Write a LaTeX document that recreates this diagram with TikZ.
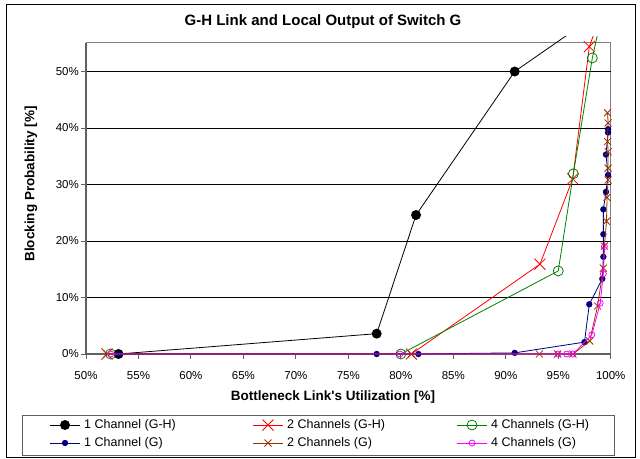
\documentclass[tikz,border=0pt]{standalone}
\usepackage{fontspec}
\setmainfont{Liberation Sans}
\newfontfamily\nomapfont{Liberation Sans}
\definecolor{navyc}{HTML}{000080}
\definecolor{brownc}{HTML}{993300}
\definecolor{greenc}{HTML}{008000}
\definecolor{magc}{HTML}{FF00FF}
\definecolor{axgray}{HTML}{808080}
\definecolor{axdark}{HTML}{606060}
\begin{document}
\begin{tikzpicture}[x=1pt,y=-1pt,
  lbl/.style={font=\fontsize{11.5}{13}\selectfont, inner sep=0pt},
  ttl/.style={font=\bfseries\fontsize{15}{17}\selectfont, inner sep=0pt},
  axt/.style={font=\bfseries\fontsize{13.5}{15}\selectfont, inner sep=0pt},
  leg/.style={font=\fontsize{12.5}{14}\selectfont, inner sep=0pt, anchor=west},
  serline/.style={line width=0.8pt, line join=round},
  gridline/.style={black, line width=0.8pt},
  mbig/.pic={\fill[black] (0,0) circle (5pt);},
  mredx/.pic={\draw[red, line width=0.8pt] (-5.5pt,-5.5pt)--(5.5pt,5.5pt) (-5.5pt,5.5pt)--(5.5pt,-5.5pt);},
  mgreen/.pic={\draw[greenc, line width=0.8pt] (0,0) circle (5pt);},
  mnavy/.pic={\fill[navyc] (0,0) circle (3.2pt);},
  mbrown/.pic={\draw[brownc, line width=0.8pt] (-3.5pt,-3.5pt)--(3.5pt,3.5pt) (-3.5pt,3.5pt)--(3.5pt,-3.5pt);},
  mmag/.pic={\draw[magc, line width=0.8pt] (0,0) circle (3pt);}
]
\useasboundingbox (0,0) rectangle (640,458);
\fill[white] (0,0) rectangle (640,458);
% chart frame
\draw[black, line width=1pt] (6,4) rectangle (635,457);
% title
\node[ttl] (title) at (323,22) {G-H Link and Local Output of Switch G};
% plot area
\draw[axgray, line width=1pt] (86,42.5) rectangle (610.7,354);
% gridlines
\foreach \b in {10,20,30,40,50}
  \draw[gridline] (86,{354-5.65*\b}) -- (610.7,{354-5.65*\b});
% axes
\draw[axdark, line width=1.2pt] (86,42.5) -- (86,354) -- (610.7,354);
\foreach \b in {0,10,20,30,40,50} {
  \draw[axdark, line width=1pt] (81,{354-5.65*\b}) -- (86,{354-5.65*\b});
  \node[lbl, anchor=east] (yl\b) at (79,{354-5.65*\b}) {\b\%};
}
\foreach \k/\t in {0/50,1/55,2/60,3/65,4/70,5/75,6/80,7/85,8/90,9/95,10/100} {
  \draw[axdark, line width=1pt] ({86+52.47*\k},354) -- ({86+52.47*\k},359);
  \node[lbl] (xl\k) at ({86+52.47*\k},376) {\t\%};
}
\node[axt] (xtitle) at (333,397) {Bottleneck Link{\nomapfont\bfseries '}s Utilization [\%]};
\node[axt, rotate=90] (ytitle) at (31,184) {Blocking Probability [\%]};
% data
\begin{scope}
\clip (80,36.5) rectangle (640,366);
\begin{scope}[shift={(-438.7,354)}, x=10.494pt, y=5.65pt]
% 1 Channel (G-H)
\draw[serline, black] (53.1,0) -- (77.7,3.6) -- (81.45,24.6) -- (90.85,50) -- (100,61.8);
\foreach \u/\b in {53.1/0, 77.7/3.6, 81.45/24.6, 90.85/50} \pic at (\u,\b) {mbig};
% 2 Channels (G-H)
\draw[serline, red] (52.0,0) -- (81.0,0) -- (93.26,15.9) -- (96.38,31.0) -- (97.96,54.4) -- (99.6,62.7);
\foreach \u/\b in {52.0/0, 81.0/0, 93.26/15.9, 96.38/31.0, 97.96/54.4} \pic at (\u,\b) {mredx};
% 4 Channels (G-H)
\draw[serline, greenc] (52.35,0) -- (80.0,0) -- (95.0,14.7) -- (96.44,31.9) -- (98.25,52.4) -- (99.47,62.7);
\foreach \u/\b in {52.35/0, 80.0/0, 95.0/14.7, 96.44/31.9, 98.25/52.4} \pic at (\u,\b) {mgreen};
% 1 Channel (G)
\draw[serline, navyc] (53.1,0) -- (77.7,0) -- (81.67,0) -- (90.85,0.2) -- (97.5,2.1) -- (97.96,8.8) -- (99.2,13.3) -- (99.3,17.2) -- (99.3,21.2) -- (99.3,25.6) -- (99.55,28.7) -- (99.75,31.7) -- (99.55,35.3) -- (99.75,39.2) -- (99.75,39.8);
\foreach \u/\b in {53.1/0, 77.7/0, 81.67/0, 90.85/0.2, 97.5/2.1, 97.96/8.8, 99.2/13.3, 99.3/17.2, 99.3/21.2, 99.3/25.6, 99.55/28.7, 99.75/31.7, 99.55/35.3, 99.75/39.2, 99.75/39.8} \pic at (\u,\b) {mnavy};
% 2 Channels (G)
\draw[serline, brownc] (52.0,0) -- (81.0,0) -- (93.2,0) -- (94.95,0) -- (96.4,0) -- (98.0,2.3) -- (98.75,8.5) -- (99.3,15.2) -- (99.4,19.1) -- (99.6,23.5) -- (99.65,27.7) -- (99.75,30.8) -- (99.75,32.9) -- (99.75,35.8) -- (99.7,37.6) -- (99.75,40.9) -- (99.7,42.7);
\foreach \u/\b in {52.0/0, 81.0/0, 93.2/0, 94.95/0, 96.4/0, 98.0/2.3, 98.75/8.5, 99.3/15.2, 99.4/19.1, 99.6/23.5, 99.65/27.7, 99.75/30.8, 99.75/32.9, 99.75/35.8, 99.7/37.6, 99.75/40.9, 99.7/42.7} \pic at (\u,\b) {mbrown};
% 4 Channels (G)
\draw[serline, magc] (52.35,0) -- (79.92,0) -- (94.95,0) -- (95.8,0) -- (96.4,0) -- (98.2,3.4) -- (99.0,9.0) -- (99.3,14.2) -- (99.4,19.0);
\foreach \u/\b in {52.35/0, 79.92/0, 94.95/0, 95.8/0, 96.4/0, 98.2/3.4, 99.0/9.0, 99.3/14.2, 99.4/19.0} \pic at (\u,\b) {mmag};
\end{scope}
\end{scope}
% legend
\draw[axdark, line width=1pt] (22,415) rectangle (614,455);
\draw[serline, black] (50,425) -- (80,425); \pic at (65,425) {mbig};
\node[leg] (l1) at (84,425) {1 Channel (G-H)};
\draw[serline, red] (253,425) -- (283,425); \pic at (268,425) {mredx};
\node[leg] (l2) at (287,425) {2 Channels (G-H)};
\draw[serline, greenc] (457,425) -- (487,425); \pic at (472,425) {mgreen};
\node[leg] (l3) at (491,425) {4 Channels (G-H)};
\draw[serline, navyc] (50,443) -- (80,443); \pic at (65,443) {mnavy};
\node[leg] (l4) at (84,443) {1 Channel (G)};
\draw[serline, brownc] (253,443) -- (283,443); \pic at (268,443) {mbrown};
\node[leg] (l5) at (287,443) {2 Channels (G)};
\draw[serline, magc] (457,443) -- (487,443); \pic at (472,443) {mmag};
\node[leg] (l6) at (491,443) {4 Channels (G)};
\end{tikzpicture}
\end{document}
